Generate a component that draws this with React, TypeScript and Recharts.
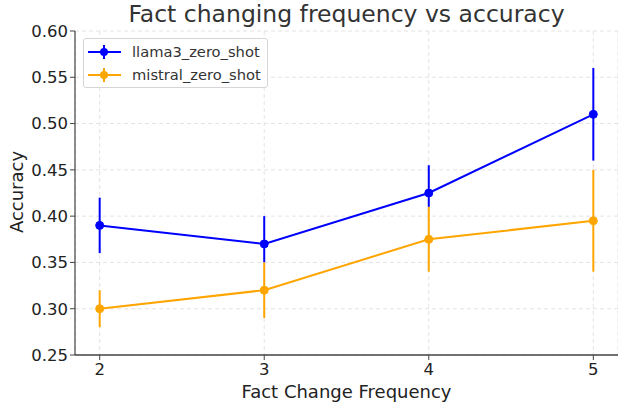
import React from 'react';
import {LineChart, Line, XAxis, YAxis, CartesianGrid, ErrorBar} from 'recharts';

const frequencies = [2, 3, 4, 5];
const llamaAcc = [0.39, 0.37, 0.425, 0.51];
const llamaLow = [0.36, 0.35, 0.41, 0.46];
const llamaHigh = [0.42, 0.40, 0.455, 0.56];
const mistralAcc = [0.30, 0.32, 0.375, 0.395];
const mistralLow = [0.28, 0.29, 0.34, 0.34];
const mistralHigh = [0.32, 0.35, 0.41, 0.45];
const yTicks = [0.25, 0.30, 0.35, 0.40, 0.45, 0.50, 0.55, 0.60];

const series = [
    {key: 'llama', name: 'llama3_zero_shot', color: '#0000ff'},
    {key: 'mistral', name: 'mistral_zero_shot', color: '#ffa500'},
];

const data = frequencies.map((f, i) => ({
    freq: f,
    llama: llamaAcc[i],
    llamaErr: [llamaAcc[i] - llamaLow[i], llamaHigh[i] - llamaAcc[i]],
    mistral: mistralAcc[i],
    mistralErr: [mistralAcc[i] - mistralLow[i], mistralHigh[i] - mistralAcc[i]],
}));

const font = '"DejaVu Sans", sans-serif';

const LegendBox = () => (
    <div style={{
        position: 'absolute', left: 83, top: 38, boxSizing: 'border-box', width: 185, height: 50,
        border: '1px solid #d5d5d5', borderRadius: 3, background: 'rgba(255,255,255,0.85)',
        padding: '1px 0 0 3px', fontFamily: font, fontSize: 14.7, color: '#333',
    }}>
        {series.map(s => (
            <div key={s.key} style={{display: 'flex', alignItems: 'center', height: 23}}>
                <svg width={36} height={20} style={{marginRight: 9, flexShrink: 0}}>
                    <line x1={1} y1={10} x2={34} y2={10} stroke={s.color} strokeWidth={2}/>
                    <line x1={17} y1={3} x2={17} y2={17} stroke={s.color} strokeWidth={2}/>
                    <circle cx={17} cy={10} r={4} fill={s.color}/>
                </svg>
                <span style={{whiteSpace: 'nowrap'}}>{s.name}</span>
            </div>
        ))}
    </div>
);

const App = () => {
    return (
        <div style={{position: 'absolute', left: 0, top: 0, width: 618, height: 406, background: '#fff'}}>
            <LineChart width={618} height={406} data={data}
                       margin={{top: 31, right: 0, left: 0, bottom: 0}}
                       style={{position: 'absolute', left: 0, top: 0}}>
                <CartesianGrid stroke="#e3e3e3" strokeDasharray="4 3"/>
                <XAxis dataKey="freq" type="number" domain={[1.85, 5.15]} ticks={frequencies}
                       allowDataOverflow height={51} tickSize={5} tickMargin={3}
                       axisLine={{stroke: '#444', strokeWidth: 1.6}} tickLine={{stroke: '#444'}}
                       tick={{fill: '#222', fontSize: 16.5, fontFamily: font}}/>
                <YAxis type="number" domain={[0.25, 0.6]} ticks={yTicks} width={75}
                       allowDataOverflow tickSize={5} tickMargin={2}
                       tickFormatter={(v: number) => v.toFixed(2)}
                       axisLine={{stroke: '#444', strokeWidth: 1.2}} tickLine={{stroke: '#444'}}
                       tick={{fill: '#222', fontSize: 16.5, fontFamily: font}}/>
                {series.map(s => (
                    <Line key={s.key} dataKey={s.key} name={s.name} type="linear" stroke={s.color}
                          strokeWidth={2} isAnimationActive={false}
                          dot={{r: 4, fill: s.color, stroke: s.color, strokeWidth: 1}}
                          activeDot={false}>
                        <ErrorBar dataKey={`${s.key}Err`} direction="y" width={0}
                                  stroke={s.color} strokeWidth={2} isAnimationActive={false}/>
                    </Line>
                ))}
            </LineChart>
            <div style={{
                position: 'absolute', top: 0, left: 75, width: 543, textAlign: 'center',
                fontFamily: font, fontSize: 23.5, color: '#333', lineHeight: '28px', whiteSpace: 'nowrap',
            }}>
                Fact changing frequency vs accuracy
            </div>
            <div style={{
                position: 'absolute', top: 381, left: 75, width: 543, textAlign: 'center',
                fontFamily: font, fontSize: 18, color: '#222', lineHeight: '22px',
            }}>
                Fact Change Frequency
            </div>
            <div style={{
                position: 'absolute', left: 16, top: 192, transform: 'translate(-50%, -50%) rotate(-90deg)',
                fontFamily: font, fontSize: 18, color: '#222', whiteSpace: 'nowrap',
            }}>
                Accuracy
            </div>
            <LegendBox/>
        </div>
    );
};

export default App;
